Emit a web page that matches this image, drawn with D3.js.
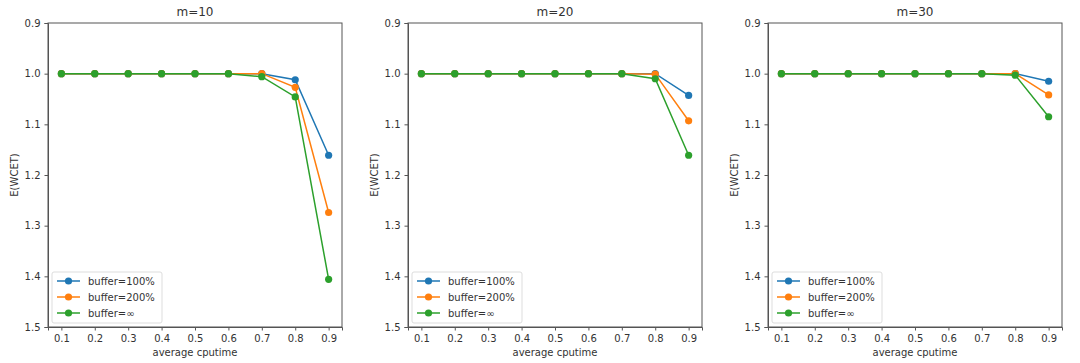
<!DOCTYPE html>
<html>
<head>
<meta charset="utf-8">
<script src="https://cdn.jsdelivr.net/npm/d3@7"></script>
<style>
  body { margin: 0; background: #fff; }
  svg text { font-family: "DejaVu Sans", sans-serif; fill: #333; }
  .axis path, .axis line { stroke: #555; }
</style>
</head>
<body>
<div id="chart"></div>
<script>
var cputime = [0.1, 0.2, 0.3, 0.4, 0.5, 0.6, 0.7, 0.8, 0.9];
var yTicks = [0.9, 1.0, 1.1, 1.2, 1.3, 1.4, 1.5];
var panelTitles = ["m=10", "m=20", "m=30"];
var seriesNames = ["buffer=100%", "buffer=200%", "buffer=\u221e"];
var colors = ["#1f77b4", "#ff7f0e", "#2ca02c"];

// E(WCET) per panel, per series
var m10_buf100 = [1.0, 1.0, 1.0, 1.0, 1.0, 1.0, 1.0, 1.012, 1.161];
var m10_buf200 = [1.0, 1.0, 1.0, 1.0, 1.0, 1.0, 1.0, 1.027, 1.274];
var m10_bufInf = [1.0, 1.0, 1.0, 1.0, 1.0, 1.0, 1.006, 1.046, 1.406];

var m20_buf100 = [1.0, 1.0, 1.0, 1.0, 1.0, 1.0, 1.0, 1.0, 1.043];
var m20_buf200 = [1.0, 1.0, 1.0, 1.0, 1.0, 1.0, 1.0, 1.001, 1.093];
var m20_bufInf = [1.0, 1.0, 1.0, 1.0, 1.0, 1.0, 1.0, 1.01, 1.161];

var m30_buf100 = [1.0, 1.0, 1.0, 1.0, 1.0, 1.0, 1.0, 1.0, 1.015];
var m30_buf200 = [1.0, 1.0, 1.0, 1.0, 1.0, 1.0, 1.0, 1.0, 1.042];
var m30_bufInf = [1.0, 1.0, 1.0, 1.0, 1.0, 1.0, 1.0, 1.003, 1.085];

var panels = [
  [m10_buf100, m10_buf200, m10_bufInf],
  [m20_buf100, m20_buf200, m20_bufInf],
  [m30_buf100, m30_buf200, m30_bufInf]
];

var width = 1080, height = 363;
var plotW = 294, plotTop = 23, plotBottom = 327;
var panelLeft = [48, 408, 768];

var svg = d3.select("#chart").append("svg")
  .attr("width", width)
  .attr("height", height);

panels.forEach(function(series, p) {
  var g = svg.append("g")
    .attr("transform", "translate(" + panelLeft[p] + ",0)");

  var x = d3.scaleLinear().domain([0.06, 0.94]).range([0, plotW]);
  var y = d3.scaleLinear().domain([0.9, 1.5]).range([plotTop, plotBottom]);

  // x axis
  g.append("g")
    .attr("class", "axis")
    .attr("transform", "translate(0," + plotBottom + ")")
    .call(d3.axisBottom(x).tickValues(cputime).tickFormat(d3.format(".1f"))
      .tickSizeOuter(0).tickSize(3.5).tickPadding(4))
    .selectAll("text").style("font-size", "10px");

  // y axis
  g.append("g")
    .attr("class", "axis")
    .call(d3.axisLeft(y).tickValues(yTicks).tickFormat(d3.format(".1f"))
      .tickSizeOuter(0).tickSize(3.5).tickPadding(4))
    .selectAll("text").style("font-size", "10px");

  // frame
  g.append("rect")
    .attr("x", 0).attr("y", plotTop)
    .attr("width", plotW).attr("height", plotBottom - plotTop)
    .attr("fill", "none").attr("stroke", "#555").attr("stroke-width", 1);

  // title
  g.append("text")
    .attr("x", plotW / 2).attr("y", 16)
    .attr("text-anchor", "middle")
    .style("font-size", "12px")
    .text(panelTitles[p]);

  // axis labels
  g.append("text")
    .attr("x", plotW / 2).attr("y", 356)
    .attr("text-anchor", "middle")
    .style("font-size", "10px")
    .text("average cputime");

  g.append("text")
    .attr("transform", "rotate(-90)")
    .attr("x", -(plotTop + plotBottom) / 2).attr("y", -30)
    .attr("text-anchor", "middle")
    .style("font-size", "10px")
    .text("E(WCET)");

  var line = d3.line()
    .x(function(d, i) { return x(cputime[i]); })
    .y(function(d) { return y(d); });

  series.forEach(function(vals, s) {
    g.append("path")
      .datum(vals)
      .attr("d", line)
      .attr("fill", "none")
      .attr("stroke", colors[s])
      .attr("stroke-width", 1.5);

    g.selectAll(".pt" + s)
      .data(vals)
      .enter()
      .append("circle")
      .attr("class", "pt" + s)
      .attr("cx", function(d, i) { return x(cputime[i]); })
      .attr("cy", function(d) { return y(d); })
      .attr("r", 3.6)
      .attr("fill", colors[s]);
  });

  // legend
  var leg = g.append("g").attr("transform", "translate(4,272)");
  leg.append("rect")
    .attr("width", 110).attr("height", 51)
    .attr("rx", 2)
    .attr("fill", "#fff").attr("fill-opacity", 0.8)
    .attr("stroke", "#ddd");
  seriesNames.forEach(function(name, s) {
    var ly = 9 + s * 16;
    leg.append("line")
      .attr("x1", 5).attr("x2", 28)
      .attr("y1", ly).attr("y2", ly)
      .attr("stroke", colors[s]).attr("stroke-width", 1.5);
    leg.append("circle")
      .attr("cx", 16.5).attr("cy", ly).attr("r", 3.6)
      .attr("fill", colors[s]);
    leg.append("text")
      .attr("x", 36).attr("y", ly + 3.5)
      .style("font-size", "10px")
      .text(name);
  });
});
</script>
</body>
</html>
